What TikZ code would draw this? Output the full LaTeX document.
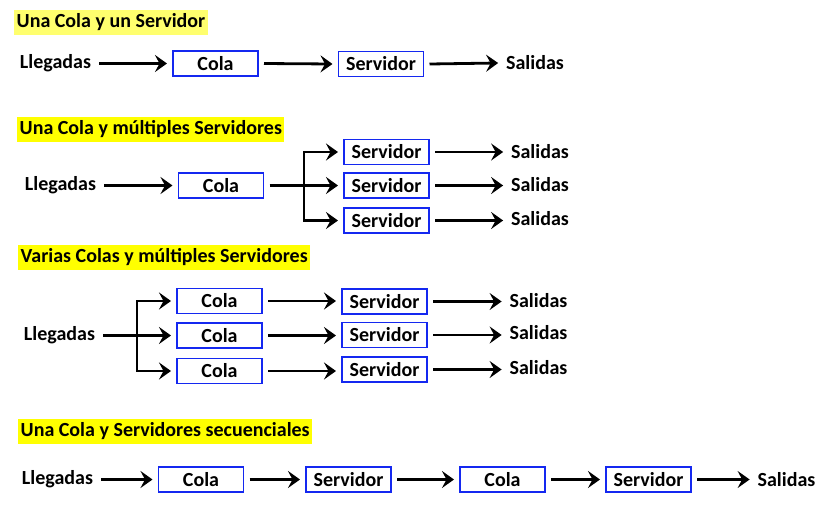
\documentclass[tikz,border=0pt]{standalone}
\usepackage{fontspec}
\setmainfont{Carlito}
\usetikzlibrary{arrows.meta}
\definecolor{hl}{RGB}{255,255,0}
\definecolor{hlpale}{RGB}{255,255,110}
\definecolor{boxblue}{RGB}{20,40,240}
\begin{document}
\begin{tikzpicture}[x=1pt,y=-1pt,
  lbl/.style={font=\fontsize{20}{21}\selectfont\bfseries, inner sep=0pt, outer sep=8pt},
  bx/.style={draw=boxblue, line width=1.7pt, minimum width=85pt, minimum height=25pt, inner sep=0pt, outer sep=6pt, font=\fontsize{20}{21}\selectfont\bfseries},
  ttl/.style={fill=#1, anchor=west, minimum height=25pt, inner xsep=2.5pt, inner ysep=0pt, font=\fontsize{20}{21}\selectfont\bfseries},
  arr/.style={line width=2.8pt, -{Stealth[length=12pt,width=17pt,inset=4.5pt]}},
  ln/.style={line width=2.8pt}]
\useasboundingbox (0,0) rectangle (832,512);

% ---- Section 1
\node[ttl=hlpale] (t1) at (14,22.5) {Una Cola y un Servidor};
\node[lbl] (l1) at (55.5,63.5) {Llegadas};
\node[bx] (c1) at (215.5,63.5) {Cola};
\node[bx] (s1) at (381,64) {Servidor};
\node[lbl] (o1) at (535,63) {Salidas};
\draw[arr] (l1.east) -- (c1.west);
\draw[arr] (c1.east) -- (s1.west);
\draw[arr] (s1.east) -- (o1.west);

% ---- Section 2
\node[ttl=hl] (t2) at (17,129) {Una Cola y múltiples Servidores};
\node[lbl] (l2) at (60.5,185.5) {Llegadas};
\node[bx] (c2) at (221,185.5) {Cola};
\node[bx] (s2a) at (386.5,152) {Servidor};
\node[bx] (s2b) at (386.5,185.5) {Servidor};
\node[bx] (s2c) at (386.5,220.5) {Servidor};
\node[lbl] (o2a) at (540,152) {Salidas};
\node[lbl] (o2b) at (540,184.5) {Salidas};
\node[lbl] (o2c) at (540,218.5) {Salidas};
\coordinate (j2) at (304,185.5);
\draw[arr] (l2.east) -- (c2.west);
\draw[arr] (c2.east) -- (s2b.west);
\draw[arr] (j2) |- (s2a.west);
\draw[arr] (j2) |- (s2c.west);
\draw[arr] (s2a.east) -- (o2a.west |- s2a);
\draw[arr] (s2b.east) -- (o2b.west |- s2b);
\draw[arr] (s2c.east) -- (o2c.west |- s2c);

% ---- Section 3
\node[ttl=hl] (t3) at (18,257.5) {Varias Colas y múltiples Servidores};
\node[lbl] (l3) at (59.5,335.5) {Llegadas};
\node[bx] (c3a) at (219.5,301) {Cola};
\node[bx] (c3b) at (219.5,335.5) {Cola};
\node[bx] (c3c) at (219.5,371) {Cola};
\node[bx] (s3a) at (384.5,301.5) {Servidor};
\node[bx] (s3b) at (384.5,335) {Servidor};
\node[bx] (s3c) at (384.5,369.5) {Servidor};
\node[lbl] (o3a) at (538.5,301) {Salidas};
\node[lbl] (o3b) at (538.5,333) {Salidas};
\node[lbl] (o3c) at (538.5,368) {Salidas};
\coordinate (j3) at (137,335.5);
\draw[arr] (l3.east) -- (c3b.west);
\draw[arr] (j3) |- (c3a.west);
\draw[arr] (j3) |- (c3c.west);
\draw[arr] (c3a.east) -- (s3a.west |- c3a);
\draw[arr] (c3b.east) -- (s3b.west |- c3b);
\draw[arr] (c3c.east) -- (s3c.west |- c3c);
\draw[arr] (s3a.east) -- (o3a.west |- s3a);
\draw[arr] (s3b.east) -- (o3b.west |- s3b);
\draw[arr] (s3c.east) -- (o3c.west |- s3c);

% ---- Section 4
\node[ttl=hl] (t4) at (18,431.5) {Una Cola y Servidores secuenciales};
\node[lbl] (l4) at (57.5,479.5) {Llegadas};
\node[bx] (c4a) at (201,479.5) {Cola};
\node[bx] (s4a) at (348.5,479.5) {Servidor};
\node[bx] (c4b) at (502.5,479.5) {Cola};
\node[bx] (s4b) at (648.5,479.5) {Servidor};
\node[lbl] (o4) at (786.5,479.5) {Salidas};
\draw[arr] (l4.east) -- (c4a.west);
\draw[arr] (c4a.east) -- (s4a.west);
\draw[arr] (s4a.east) -- (c4b.west);
\draw[arr] (c4b.east) -- (s4b.west);
\draw[arr] (s4b.east) -- (o4.west);
\end{tikzpicture}
\end{document}
